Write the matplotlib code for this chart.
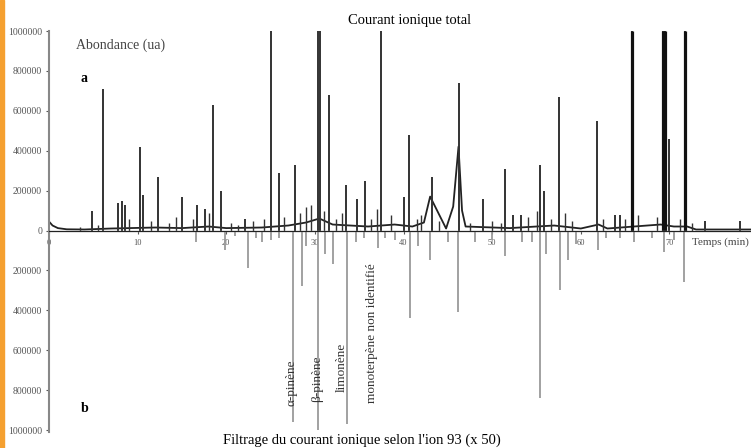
import numpy as np
import matplotlib
matplotlib.use("Agg")
import matplotlib.pyplot as plt
from matplotlib.patches import Rectangle
from matplotlib.ticker import FuncFormatter

# courant ionique total (a): temps de retention (min), abondance
tic_t = [4.85, 6.1, 7.8, 8.2, 8.6, 10.26, 10.6, 12.3, 15.0, 16.7, 17.6, 18.5, 19.4, 22.1,
         25.0, 25.9, 27.7, 30.4, 30.55, 31.6, 33.5, 34.8, 35.6, 37.5, 40.0, 40.6, 43.2, 46.2,
         49.0, 51.4, 52.3, 53.3, 55.4, 55.9, 57.5, 61.8, 63.8, 64.4, 65.8, 69.3, 69.55,
         69.9, 71.8, 74.0, 78.0]
tic_h = [100000, 710000, 140000, 150000, 130000, 420000, 180000, 270000, 170000, 130000,
         110000, 630000, 200000, 60000, 1000000, 290000, 330000, 1000000, 1000000, 680000,
         230000, 160000, 250000, 1000000, 170000, 480000, 270000, 740000, 160000, 310000,
         80000, 80000, 330000, 200000, 670000, 550000, 80000, 80000, 1000000, 1000000,
         1000000, 460000, 1000000, 50000, 50000]
# petits pics
tic_min_t = [3.5, 5.5, 9.0, 11.5, 13.5, 14.3, 16.2, 18.0, 20.5, 21.3, 23.0, 24.3, 26.5,
             28.3, 29.0, 29.6, 31.0, 32.4, 33.0, 36.3, 37.0, 38.6, 41.5, 42.0, 44.0, 47.5,
             50.0, 51.0, 54.0, 55.0, 56.6, 58.2, 59.0, 62.5, 65.0, 66.5, 68.6, 71.2, 72.5]
tic_min_h = [20000, 30000, 60000, 50000, 40000, 70000, 60000, 90000, 40000, 30000, 50000,
             60000, 70000, 90000, 120000, 130000, 100000, 60000, 90000, 60000, 110000,
             80000, 60000, 80000, 50000, 40000, 50000, 40000, 70000, 100000, 60000, 90000,
             50000, 60000, 60000, 80000, 70000, 60000, 40000]
tic_base_t = [0, 0.4, 1, 2, 4, 7, 9, 12, 15, 18, 20, 24, 27, 29, 30.5, 32, 34, 36, 39, 41,
              42.3, 43.0, 44.8, 45.6, 46.2, 46.6, 47, 52, 55, 57, 60, 62, 63, 69, 70.5, 72,
              73, 79.2]
tic_base_v = [45000, 25000, 12000, 6000, 5000, 10000, 12000, 15000, 12000, 20000, 12000,
              15000, 25000, 40000, 60000, 30000, 25000, 20000, 30000, 20000, 40000, 170000,
              10000, 120000, 420000, 100000, 20000, 12000, 20000, 25000, 10000, 30000, 10000,
              30000, 20000, 20000, 5000, 5000]

# ion 93 (b), x 50
ion_t = [16.6, 19.8, 22.4, 24.0, 26.0, 27.5, 28.5, 30.3, 31.1, 32.0, 33.6, 34.6, 37.1, 37.9,
         40.7, 41.6, 43.0, 46.1, 48.1, 51.4, 53.4, 55.4, 56.1, 57.6, 58.5, 61.9, 64.4, 69.4,
         71.6, 21.0, 23.4, 25.0, 29.0, 35.5, 39.0, 45.0, 50.0, 54.5, 59.5, 62.8, 66.0, 68.0,
         70.5]
ion_h = [60000, 100000, 190000, 60000, 40000, 960000, 280000, 1000000, 120000, 170000,
         970000, 60000, 90000, 40000, 440000, 80000, 150000, 410000, 60000, 130000, 60000,
         840000, 120000, 300000, 150000, 100000, 40000, 110000, 260000, 30000, 40000, 50000,
         80000, 40000, 50000, 60000, 50000, 60000, 70000, 40000, 60000, 40000, 50000]

composes = ["α-pinène", "β-pinène", "limonène", "monoterpène non identifié"]
composes_t = [27.4, 30.2, 33.0, 36.4]
composes_y = [-764000, -744000, -688000, -513000]

plt.rcParams['font.family'] = ['Liberation Serif', 'DejaVu Serif']

fig = plt.figure(figsize=(7.51, 4.48), dpi=100)
ax = fig.add_axes([49/751, 16/448, 1 - 49/751, 401/448])

ax.plot(tic_base_t, tic_base_v, color='#222222', lw=1.3)
ax.vlines(tic_min_t, 0, tic_min_h, color='#333333', lw=1.0)
ax.vlines(tic_t, 0, tic_h, color='#333333', lw=1.4)
thick = [t for t, h in zip(tic_t, tic_h) if h >= 1000000 and t > 65]
ax.vlines(thick, 0, [1000000]*len(thick), color='#111111', lw=2.3)

ax.plot([0, 79.2], [-4000, -4000], color='#aaaaaa', lw=1.0)
ax.vlines(ion_t, 0, [-h for h in ion_h], color='#9a9a9a', lw=1.3)

for name, t, y in zip(composes, composes_t, composes_y):
    ax.text(t, y, name, rotation=90, ha='center', va='center', fontsize=9.5, color='#333333')

ax.set_xlim(0, 79.2)
ax.set_ylim(-1010000, 1000000)
ax.spines['top'].set_visible(False)
ax.spines['right'].set_visible(False)
ax.spines['bottom'].set_position(('data', 0))
ax.spines['bottom'].set_color('#222222')
ax.spines['left'].set_color('#888888')
ax.spines['left'].set_linewidth(1.5)
ax.set_yticks(np.arange(-1000000, 1000001, 200000))
ax.yaxis.set_major_formatter(FuncFormatter(lambda v, p: "%d" % abs(v)))
ax.set_xticks(np.arange(0, 71, 10))
ax.tick_params(axis='y', labelsize=7, length=2, colors='#555555', pad=3)
ax.tick_params(axis='x', labelsize=6, length=2, colors='#555555', pad=4)

ax.text(40.7, 1055000, "Courant ionique total", fontsize=10.5, ha='center', va='center')
ax.text(3, 930000, "Abondance (ua)", fontsize=10, ha='left', va='center', color='#444444')
ax.text(4, 760000, "a", fontsize=10, fontweight='bold', ha='center', va='center')
ax.text(4, -890000, "b", fontsize=10, fontweight='bold', ha='center', va='center')
ax.text(72.6, -60000, "Temps (min)", fontsize=8, ha='left', va='center', color='#444444')
fig.text(362/751, 1 - 440/448, "Filtrage du courant ionique selon l'ion 93 (x 50)",
         fontsize=10.5, ha='center', va='center')

fig.add_artist(Rectangle((0, 0), 4/751, 1, transform=fig.transFigure, color='#f5a030'))

fig.savefig("out.png", dpi=100)
